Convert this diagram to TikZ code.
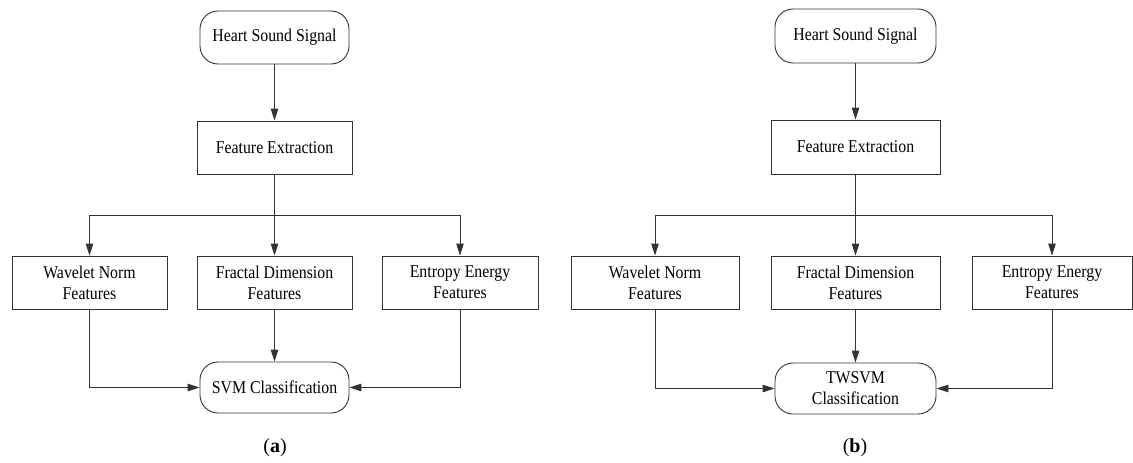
\documentclass[tikz,border=0pt]{standalone}
\usepackage{fontspec}
\setmainfont{Liberation Serif}
\newfontfamily\boxfont[FakeStretch=0.88]{Liberation Serif}
\usetikzlibrary{arrows.meta}
\tikzset{
  base/.style={draw=black!80, line width=0.9pt, align=center, inner sep=0pt,
    font=\boxfont\fontsize{18}{21}\selectfont, minimum height=53pt},
  rbox/.style={base, rounded corners=18pt},
  sbox/.style={base},
  arr/.style={draw=black!80, line width=0.9pt, -{Triangle[length=12pt,width=7.5pt]}},
  ln/.style={draw=black!80, line width=0.9pt},
  capstyle/.style={font=\fontsize{20}{24}\selectfont}
}
\begin{document}
\begin{tikzpicture}[x=1pt,y=-1pt]
\useasboundingbox (0,0) rectangle (1133,463);
% ---------- panel (a)
\node[rbox, minimum width=149pt] (hsa) at (274.5,37.5) {Heart Sound Signal};
\node[sbox, minimum width=155pt] (fea) at (274.5,147.5) {Feature Extraction};
\node[sbox, minimum width=155pt] (wna) at (89.5,282.5) {Wavelet Norm\\Features};
\node[sbox, minimum width=155pt] (fda) at (274.5,282.5) {Fractal Dimension\\Features};
\node[sbox, minimum width=156pt] (eea) at (460,282.5) {Entropy Energy\\Features};
\node[rbox, minimum width=149pt, minimum height=51pt] (sva) at (274.5,387.5) {SVM Classification};
\coordinate (ba) at (274.5,215);
\draw[arr] (hsa) -- (fea);
\draw[ln] (fea) -- (ba);
\draw[arr] (ba) -| (wna.north);
\draw[arr] (ba) -- (fda.north);
\draw[arr] (ba) -| (eea.north);
\draw[arr] (wna.south) |- (sva.west);
\draw[arr] (fda.south) -- (sva.north);
\draw[arr] (eea.south) |- (sva.east);
\node[capstyle] (capa) at (275,448) {(\textbf{a})};
% ---------- panel (b)
\node[rbox, minimum width=161pt, minimum height=54pt] (hsb) at (855.5,36) {Heart Sound Signal};
\node[sbox, minimum width=169pt, minimum height=54pt] (feb) at (855.5,147) {Feature Extraction};
\node[sbox, minimum width=168pt] (wnb) at (655,282.5) {Wavelet Norm\\Features};
\node[sbox, minimum width=169pt] (fdb) at (855.5,282.5) {Fractal Dimension\\Features};
\node[sbox, minimum width=160pt] (eeb) at (1052,282.5) {Entropy Energy\\Features};
\node[rbox, minimum width=161pt, minimum height=51pt] (svb) at (855.5,388.5) {TWSVM\\Classification};
\coordinate (bb) at (855.5,215);
\draw[arr] (hsb) -- (feb);
\draw[ln] (feb) -- (bb);
\draw[arr] (bb) -| (wnb.north);
\draw[arr] (bb) -- (fdb.north);
\draw[arr] (bb) -| (eeb.north);
\draw[arr] (wnb.south) |- (svb.west);
\draw[arr] (fdb.south) -- (svb.north);
\draw[arr] (eeb.south) |- (svb.east);
\node[capstyle] (capb) at (855,448) {(\textbf{b})};
\end{tikzpicture}
\end{document}
